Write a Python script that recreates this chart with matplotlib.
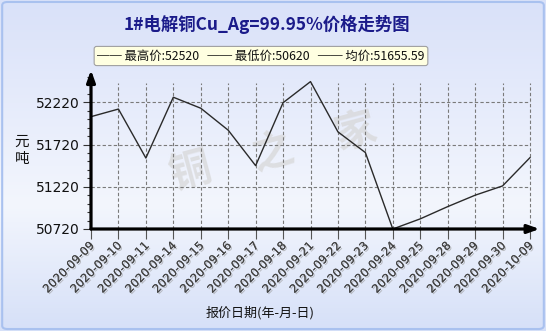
import matplotlib
matplotlib.use("Agg")
import matplotlib.pyplot as plt
import numpy as np
from matplotlib.patches import FancyBboxPatch
import matplotlib.patheffects as pe

dates = ["2020-09-09", "2020-09-10", "2020-09-11", "2020-09-14", "2020-09-15",
         "2020-09-16", "2020-09-17", "2020-09-18", "2020-09-21", "2020-09-22",
         "2020-09-23", "2020-09-24", "2020-09-25", "2020-09-28", "2020-09-29",
         "2020-09-30", "2020-10-09"]
prices = [52050, 52140, 51560, 52280, 52150, 51890, 51470, 52215, 52465, 51870,
          51625, 50720, 50840, 50985, 51120, 51230, 51565]
yticks = [50720, 51220, 51720, 52220]
title = "1#电解铜Cu_Ag=99.95%价格走势图"
legend_text = "── 最高价:52520   ── 最低价:50620   ── 均价:51655.59"
ylabel = "元\n吨"
xlabel = "报价日期(年-月-日)"
watermark = ["铜", "之", "家"]

CJK = ["Noto Sans CJK SC", "DejaVu Sans"]
plt.rcParams['font.family'] = CJK

W, H = 546, 331
fig = plt.figure(figsize=(W / 100, H / 100), dpi=100)

# background gradient
bg = fig.add_axes([0, 0, 1, 1], zorder=-10)
bg.set_axis_off()
c_top = np.array([0xd9, 0xe1, 0xf9]) / 255
c_mid = np.array([0xf3, 0xf6, 0xfd]) / 255
c_bot = np.array([0xd6, 0xe0, 0xf8]) / 255
t = np.linspace(0, 1, 200)[:, None]
grad = np.where(t < 0.62, c_top + (c_mid - c_top) * (t / 0.62),
                c_mid + (c_bot - c_mid) * ((t - 0.62) / 0.38))
bg.imshow(grad[:, None, :].repeat(2, axis=1), aspect='auto', extent=[0, 1, 0, 1])
bg.set_xlim(0, 1)
bg.set_ylim(0, 1)
bg.add_patch(FancyBboxPatch((0.004, 0.006), 0.992, 0.988,
                            boxstyle="round,pad=0,rounding_size=0.01",
                            fc='none', ec='#a9c1ef', lw=1.5))

# watermark (figure pixel positions)
for ch, (px, py) in zip(watermark, [(190, 172), (272, 152), (355, 132)]):
    fig.text(px / W, 1 - py / H, ch, fontsize=30, color='#d6d6d6', alpha=0.7,
             rotation=15, ha='center', va='center', fontweight='bold', zorder=-5)

# main axes
x0, x_last, y_bot, y_top = 91, 530, 229, 70
n = len(dates)
step = (x_last - x0) / (n - 1)
xmax = 16.3
ax_right = x0 + xmax * step
ymin = 50720
ppu = (229 - 102.3) / 1500.0
ymax = 52220 + (102.3 - y_top) / ppu
ax = fig.add_axes([x0 / W, (H - y_bot) / H, (ax_right - x0) / W, (y_bot - y_top) / H])
ax.set_facecolor('none')
ax.set_xlim(0, xmax)
ax.set_ylim(ymin, ymax)
for s in ax.spines.values():
    s.set_visible(False)

xs = np.arange(n)
grid_top = 52220 + (102.3 - 83) / ppu
ax.vlines(xs[1:], ymin, grid_top, colors='#7a7a7a', linestyles=(0, (3, 2)), lw=0.8, zorder=1)
ax.hlines(yticks[1:], 0, n - 1, colors='#7a7a7a', linestyles=(0, (3, 2)), lw=0.8, zorder=1)

ax.plot(xs, prices, color='#2a2a2a', lw=1.0, zorder=3)

# axes arrows
ax.annotate('', xy=(0, ymax), xytext=(0, ymin), xycoords='data',
            arrowprops=dict(arrowstyle='-|>,head_width=0.25,head_length=0.7', color='black', lw=2.3,
                            shrinkA=0, shrinkB=0), annotation_clip=False, zorder=4)
ax.annotate('', xy=(xmax + 0.05, ymin), xytext=(0, ymin), xycoords='data',
            arrowprops=dict(arrowstyle='-|>,head_width=0.25,head_length=0.7', color='black', lw=2.3,
                            shrinkA=0, shrinkB=0), annotation_clip=False, zorder=4)

ax.set_yticks(yticks)
ax.set_yticklabels([str(v) for v in yticks], fontsize=10, color='#111111', family='DejaVu Sans')
ax.set_yticks(np.arange(50720, 52620, 100), minor=True)
ax.tick_params(axis='y', which='major', length=6, width=0.8, color='#333333', pad=2)
ax.tick_params(axis='y', which='minor', length=3, width=0.8, color='#333333')

ax.set_xticks(xs)
ax.set_xticklabels(dates, rotation=45, ha='right', va='center_baseline', rotation_mode='anchor',
                   fontsize=8.3, color='#444444', family='DejaVu Sans')
for lab in ax.get_xticklabels():
    lab.set_path_effects([pe.withSimplePatchShadow(offset=(1, -1), shadow_rgbFace='#999999', alpha=0.6),
                          pe.Normal()])
ax.tick_params(axis='x', length=7, width=0.8, color='#555555', pad=3)

# texts
fig.text(267 / W, 1 - 24 / H, title, ha='center', va='center', fontsize=12.5,
         color='#1b1b8a', fontweight='bold')
fig.text(261 / W, 1 - 56 / H, legend_text, ha='center', va='center', fontsize=8.9,
         color='#111111',
         bbox=dict(boxstyle='round,pad=0.25,rounding_size=0.2', fc='#ffffe1', ec='#a0a0a0', lw=0.8))
fig.text(22 / W, 1 - 150 / H, ylabel, ha='center', va='center', fontsize=10.5, color='#111111',
         linespacing=1.3)
fig.text(260 / W, 1 - 313 / H, xlabel, ha='center', va='center', fontsize=9.4, color='#111111')

fig.savefig('out.png', dpi=100)
